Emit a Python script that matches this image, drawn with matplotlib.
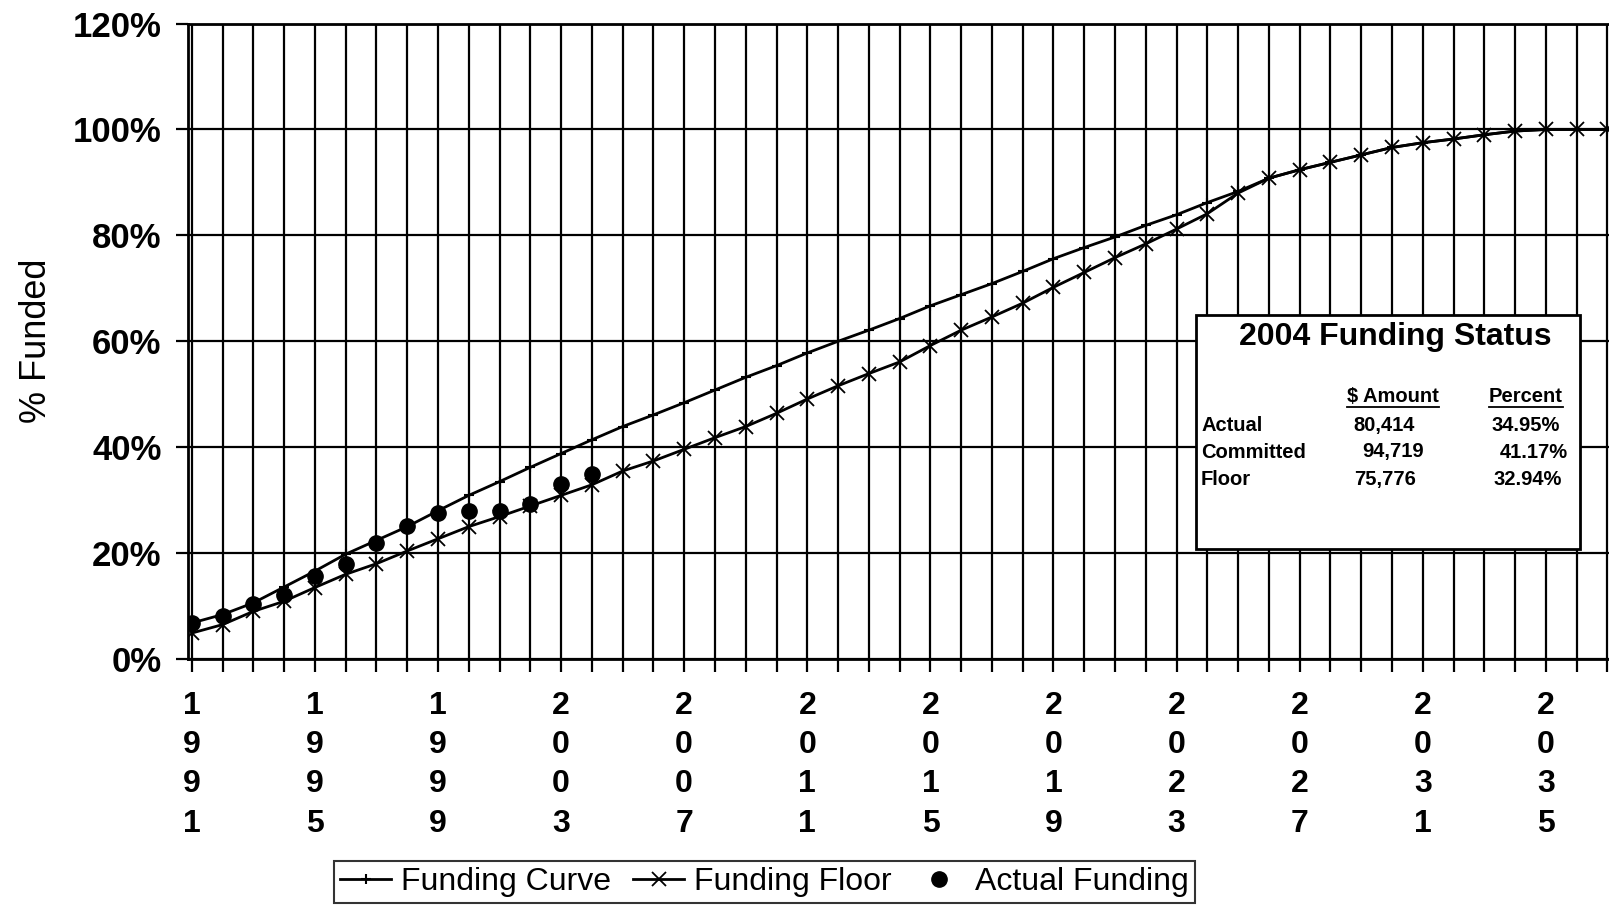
import matplotlib
matplotlib.use("Agg")
import matplotlib.pyplot as plt
from matplotlib.patches import Rectangle
from matplotlib.lines import Line2D
from matplotlib.ticker import FixedLocator, FuncFormatter

plt.rcParams['font.family'] = ['Liberation Sans', 'DejaVu Sans']

years = list(range(1991, 2038))
funding_curve = [6.8, 8.4, 10.6, 13.6, 16.6, 19.8, 22.4, 25.0, 28.0, 30.9,
                 33.5, 36.2, 38.8, 41.4, 43.9, 46.1, 48.4, 50.8, 53.2, 55.4,
                 57.8, 60.0, 62.1, 64.3, 66.7, 68.8, 70.9, 73.2, 75.6, 77.7,
                 79.7, 81.9, 83.9, 86.2, 88.3, 90.8, 92.4, 93.8, 95.2, 96.6,
                 97.5, 98.2, 99.0, 99.7, 100.0, 100.0, 100.0]
funding_floor = [4.9, 6.5, 9.0, 10.9, 13.5, 16.0, 18.0, 20.4, 22.7, 25.0,
                 26.9, 28.9, 30.9, 32.9, 35.5, 37.4, 39.6, 41.8, 43.9, 46.4,
                 49.1, 51.6, 53.9, 56.1, 59.2, 62.1, 64.6, 67.2, 70.2, 73.0,
                 75.8, 78.4, 81.2, 84.1, 88.0, 90.8, 92.4, 93.8, 95.2, 96.6,
                 97.5, 98.2, 99.0, 99.7, 100.0, 100.0, 100.0]
actual_years = list(range(1991, 2005))
actual_funding = [6.8, 8.1, 10.4, 12.0, 15.7, 18.0, 22.0, 25.2, 27.6, 27.9,
                  27.9, 29.3, 33.1, 35.0]

label_years = list(range(1991, 2036, 4))

status_rows = ["Actual", "Committed", "Floor"]
status_amounts = ["80,414", "94,719", "75,776"]
status_percents = ["34.95%", "41.17%", "32.94%"]

fig = plt.figure(figsize=(16.09, 9.06), dpi=100)
ax = fig.add_axes([0.1167, 0.2726, 0.8833, 0.7014])

ax.plot(years, funding_curve, color='black', lw=2, marker='+', ms=7, mew=1.5,
        label='Funding Curve', zorder=4)
ax.plot(years, funding_floor, color='black', lw=2, marker='x', ms=10, mew=1.3,
        label='Funding Floor', zorder=4)
ax.plot(actual_years, actual_funding, color='black', ls='none', marker='o', ms=11,
        label='Actual Funding', zorder=5)

ax.set_xlim(1990.87, 2037.05)
ax.set_ylim(0, 120)
ax.set_yticks(range(0, 121, 20))
ax.yaxis.set_major_formatter(FuncFormatter(lambda v, p: f"{int(v)}%"))
ax.xaxis.set_major_locator(FixedLocator(years))
ax.xaxis.set_major_formatter(FuncFormatter(
    lambda v, p: "\n".join(str(int(round(v)))) if int(round(v)) in label_years else ""))

ax.grid(True, color='black', lw=1.6)
ax.set_axisbelow(True)
for s in ax.spines.values():
    s.set_color('black')
    s.set_linewidth(2)
ax.spines['right'].set_visible(False)

ax.tick_params(axis='y', length=9, width=1.6, labelsize=25, pad=10)
ax.tick_params(axis='x', length=9, width=1.6, labelsize=23, pad=14)
for t in ax.get_xticklabels():
    t.set_fontweight('bold')
    t.set_linespacing(1.4)
for t in ax.get_yticklabels():
    t.set_fontweight('bold')
ax.set_ylabel('% Funded', fontsize=26, labelpad=13)

# status box
bx0, by0, bw, bh = 1196 / 1609, 1 - 549 / 906, 384 / 1609, 234 / 906
ax.add_patch(Rectangle((bx0, by0), bw, bh, transform=fig.transFigure,
                       facecolor='white', edgecolor='black', lw=2, zorder=10))
fig.text(1395 / 1609, 1 - 337 / 906, '2004 Funding Status', ha='center', va='center',
         fontsize=23, fontweight='bold', zorder=11)
fig.text(1393 / 1609, 1 - 397 / 906, '$ Amount', ha='center', va='center',
         fontsize=14.5, fontweight='bold', zorder=11)
fig.text(1526 / 1609, 1 - 397 / 906, 'Percent', ha='center', va='center',
         fontsize=14.5, fontweight='bold', zorder=11)
for x0, x1 in [(1347, 1439), (1489, 1563)]:
    fig.add_artist(Line2D([x0 / 1609, x1 / 1609], [1 - 407 / 906, 1 - 407 / 906],
                          color='black', lw=1.3, zorder=11))
amount_x = [1353, 1362, 1354]
pct_x = [1491, 1500, 1493]
for i, name in enumerate(status_rows):
    y = 1 - (425 + 27 * i) / 906
    fig.text(1201 / 1609, y, name, ha='left', va='center', fontsize=14.5,
             fontweight='bold', zorder=11)
    fig.text(amount_x[i] / 1609, y, status_amounts[i], ha='left', va='center',
             fontsize=14.5, fontweight='bold', zorder=11)
    fig.text(pct_x[i] / 1609, y, status_percents[i], ha='left', va='center',
             fontsize=14.5, fontweight='bold', zorder=11)

leg = fig.legend(loc='center', bbox_to_anchor=(0.475, 0.0265), ncol=3, fontsize=23,
                 frameon=True, fancybox=False, edgecolor='black', handlelength=1.6,
                 handletextpad=0.3, columnspacing=0.7, borderpad=0.2)
leg.get_frame().set_linewidth(1.5)

fig.savefig('out.png', dpi=100, facecolor='white')
